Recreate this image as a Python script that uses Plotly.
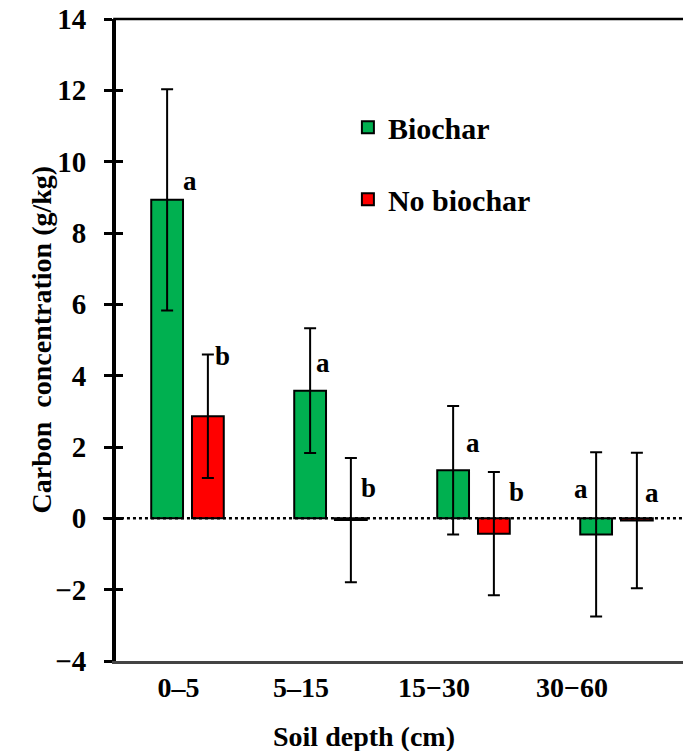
import plotly.graph_objects as go

# ---- data ----
depths = ["0–5", "5–15", "15−30", "30−60"]
biochar_mean = [8.93, 3.58, 1.35, -0.45]
biochar_err = [3.10, 1.75, 1.80, 2.30]
nobiochar_mean = [2.86, -0.05, -0.43, -0.06]
nobiochar_err = [1.73, 1.74, 1.73, 1.90]
biochar_letters = ["a", "a", "a", "a"]
nobiochar_letters = ["b", "b", "b", "a"]
# y values (g/kg) where the significance letters sit
biochar_letter_y = [9.45, 4.35, 2.12, 0.83]
nobiochar_letter_y = [4.55, 0.85, 0.75, 0.7]

# ---- style ----
GREEN = "#00b050"
RED = "#ff0000"
FONT = "Liberation Serif, Times New Roman, serif"
label_shift = [-0.063, -0.206, -0.276, -0.311]   # tick label offsets (category units)
bio_letter_dx = [23, 13, 20, -15]                # px offsets of letters from bar centre
nob_letter_dx = [15, 18, 23, 15]
BAR_OFF = 0.1425

xs = list(range(len(depths)))

fig = go.Figure()
fig.add_trace(go.Bar(
    x=xs, y=biochar_mean, name="Biochar", legendgroup="g1",
    marker=dict(color=GREEN, line=dict(color="black", width=2)),
    error_y=dict(type="data", array=biochar_err, color="black", thickness=2, width=6),
))
fig.add_trace(go.Bar(
    x=xs, y=nobiochar_mean, name="No biochar", legendgroup="g2",
    marker=dict(color=RED, line=dict(color="black", width=2)),
    error_y=dict(type="data", array=nobiochar_err, color="black", thickness=2, width=6),
))

# invisible trace for the second (inside-tick) y axis
fig.add_trace(go.Scatter(x=[], y=[], yaxis="y2", showlegend=False, hoverinfo="skip"))

ann = []
for i in xs:
    ann.append(dict(x=i - BAR_OFF, y=biochar_letter_y[i], text="<b>%s</b>" % biochar_letters[i],
                    xshift=bio_letter_dx[i], showarrow=False,
                    font=dict(family=FONT, size=27, color="black")))
    ann.append(dict(x=i + BAR_OFF, y=nobiochar_letter_y[i], text="<b>%s</b>" % nobiochar_letters[i],
                    xshift=nob_letter_dx[i], showarrow=False,
                    font=dict(family=FONT, size=27, color="black")))

ann.append(dict(xref="paper", yref="paper", x=0.437, y=-0.118, yanchor="middle",
                text="<b>Soil depth (cm)</b>", showarrow=False,
                font=dict(family=FONT, size=28, color="black")))
ann.append(dict(xref="paper", yref="paper", x=-0.164, y=0.5, textangle=-90,
                text="<b>Carbon  concentration (g/kg)</b>", showarrow=False,
                font=dict(family=FONT, size=28, color="black")))

fig.update_layout(
    width=683, height=751,
    margin=dict(l=116, r=0, t=19, b=90),
    plot_bgcolor="white", paper_bgcolor="white",
    font=dict(family=FONT, size=28, color="black", weight="bold"),
    barmode="group", bargap=0.43, bargroupgap=0.22,
    showlegend=True,
    legend=dict(x=0.409, y=0.872, xanchor="left", yanchor="top",
                traceorder="grouped", tracegroupgap=30,
                font=dict(family=FONT, size=30, color="black", weight="bold"),
                bgcolor="rgba(0,0,0,0)"),
    xaxis=dict(range=[-0.5, 3.465], tickmode="array",
               tickvals=[i + s for i, s in zip(xs, label_shift)], ticktext=depths,
               ticks="", showline=True, linecolor="#444", linewidth=2.5,
               showgrid=False, zeroline=False,
               tickfont=dict(family=FONT, size=28, color="black", weight="bold")),
    yaxis=dict(range=[-4, 14], dtick=2, tick0=0, ticks="outside", ticklen=8,
               tickwidth=2.5, tickcolor="black", showline=True, linecolor="black",
               linewidth=4, showgrid=False, zeroline=False, ticklabelstandoff=12,
               tickfont=dict(family=FONT, size=29, color="black", weight="bold")),
    yaxis2=dict(range=[-4, 14], dtick=2, tick0=0, overlaying="y", side="left",
                ticks="inside", ticklen=7, tickwidth=2.5, tickcolor="black",
                showticklabels=False, showline=False, showgrid=False, zeroline=False),
    annotations=ann,
    shapes=[
        dict(type="line", xref="paper", yref="y", x0=-0.023, x1=1, y0=0, y1=0,
             line=dict(color="black", width=2.5, dash="dot"), layer="above"),
        dict(type="line", xref="paper", yref="paper", x0=-0.005, x1=1, y0=1, y1=1,
             line=dict(color="black", width=2.5), layer="above"),
    ],
)

fig.write_html("out.html")
